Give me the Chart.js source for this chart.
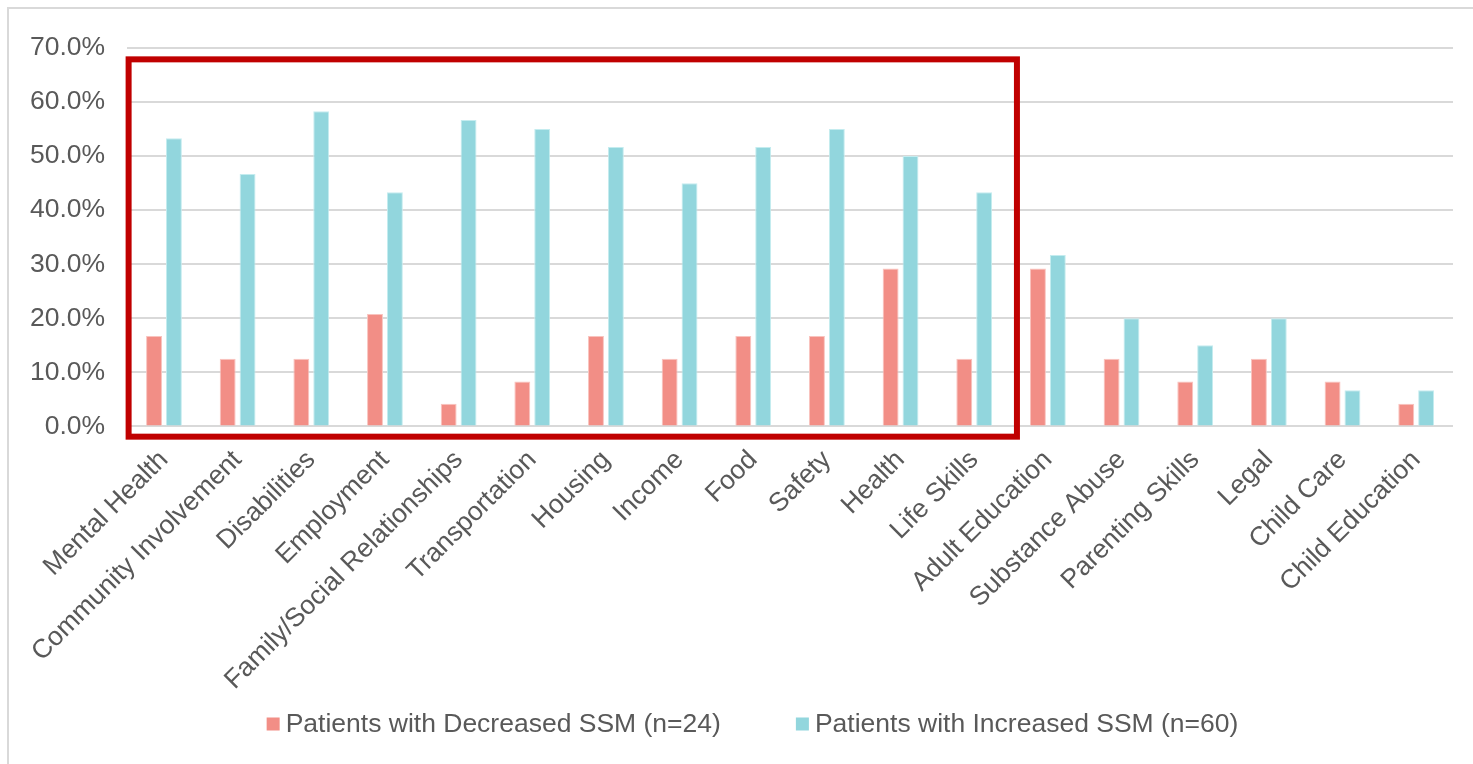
<!DOCTYPE html>
<html>
<head>
<meta charset="utf-8">
<script src="https://cdn.jsdelivr.net/npm/chart.js@4/dist/chart.umd.min.js"></script>
<style>
  html, body { margin: 0; padding: 0; background: #ffffff; }
  #wrap { position: relative; width: 1473px; height: 764px; }
</style>
</head>
<body>
<div id="wrap"><canvas id="chart" width="1473" height="764"></canvas></div>
<script>
// Social needs categories and share of patients in each group (percent)
const categories = [
  'Mental Health', 'Community Involvement', 'Disabilities', 'Employment',
  'Family/Social Relationships', 'Transportation', 'Housing', 'Income',
  'Food', 'Safety', 'Health', 'Life Skills', 'Adult Education',
  'Substance Abuse', 'Parenting Skills', 'Legal', 'Child Care', 'Child Education'
];
const decreasedSSM = [16.7, 12.5, 12.5, 20.8, 4.2, 8.3, 16.7, 12.5, 16.7, 16.7, 29.2, 12.5, 29.2, 12.5, 8.3, 12.5, 8.3, 4.2];
const increasedSSM = [53.3, 46.7, 58.3, 43.3, 56.7, 55.0, 51.7, 45.0, 51.7, 55.0, 50.0, 43.3, 31.7, 20.0, 15.0, 20.0, 6.7, 6.7];
const seriesLabels = ['Patients with Decreased SSM (n=24)', 'Patients with Increased SSM (n=60)'];
const yTicks = [0, 10, 20, 30, 40, 50, 60, 70];
// highlighted group: first through last index of the framed categories
const highlightFirst = 0;
const highlightLast = 11;

const FONT = '"Liberation Sans", Arial, sans-serif';
const FONT_SIZE = 26.5;
const TEXT = '#595959';

// light frame along the top and left edges of the figure
const frameLines = {
  id: 'frameLines',
  beforeDraw(chart) {
    const ctx = chart.ctx;
    ctx.save();
    ctx.strokeStyle = '#D9D9D9';
    ctx.lineWidth = 2;
    ctx.beginPath();
    ctx.moveTo(8, chart.height);
    ctx.lineTo(8, 8);
    ctx.lineTo(chart.width, 8);
    ctx.stroke();
    ctx.restore();
  }
};

// red rectangle around the highlighted categories, placed with the chart scales
const highlightBox = {
  id: 'highlightBox',
  afterDatasetsDraw(chart) {
    const x = chart.scales.x, y = chart.scales.y, ctx = chart.ctx;
    const left = x.getPixelForValue(highlightFirst - 0.48);
    const right = x.getPixelForValue(highlightLast + 0.58);
    const top = y.getPixelForValue(67.9);
    const bottom = y.getPixelForValue(-1.9);
    ctx.save();
    ctx.strokeStyle = '#C00000';
    ctx.lineWidth = 6;
    ctx.lineJoin = 'miter';
    ctx.strokeRect(left, top, right - left, bottom - top);
    ctx.restore();
  }
};

// single-row legend under the axis labels: square swatch, short gap, label
const bottomLegend = {
  id: 'bottomLegend',
  afterDraw(chart) {
    const ctx = chart.ctx;
    const box = 13, boxGap = 6, itemGap = 75;
    ctx.save();
    ctx.font = FONT_SIZE + 'px ' + FONT;
    ctx.textBaseline = 'middle';
    ctx.textAlign = 'left';
    const items = chart.data.datasets.map(ds => ({
      text: ds.label,
      color: ds.backgroundColor,
      w: box + boxGap + ctx.measureText(ds.label).width
    }));
    const total = items.reduce((s, it) => s + it.w, 0) + itemGap * (items.length - 1);
    let x = chart.width / 2 + 16 - total / 2;
    const yMid = chart.height - 39;
    items.forEach(it => {
      ctx.fillStyle = it.color;
      ctx.fillRect(x, yMid - box / 2 - 1, box, box);
      ctx.fillStyle = TEXT;
      ctx.fillText(it.text, x + box + boxGap, yMid);
      x += it.w + itemGap;
    });
    ctx.restore();
  }
};

new Chart(document.getElementById('chart'), {
  type: 'bar',
  data: {
    labels: categories,
    datasets: [
      {
        label: seriesLabels[0],
        data: decreasedSSM,
        backgroundColor: '#F28E86',
        borderColor: '#F9C3BE',
        borderWidth: 1
      },
      {
        label: seriesLabels[1],
        data: increasedSSM,
        backgroundColor: '#92D6DD',
        borderColor: '#C4ECEF',
        borderWidth: 1
      }
    ]
  },
  options: {
    responsive: false,
    animation: false,
    datasets: { bar: { categoryPercentage: 0.54, barPercentage: 0.8 } },
    layout: { padding: { left: 8, right: 20, top: 48, bottom: 58 } },
    scales: {
      x: {
        grid: { display: false },
        border: { display: false },
        ticks: {
          color: TEXT,
          font: { family: FONT, size: FONT_SIZE },
          maxRotation: 45,
          minRotation: 45,
          autoSkip: false,
          padding: 10
        }
      },
      y: {
        min: 0,
        max: 70,
        afterBuildTicks(scale) { scale.ticks = yTicks.map(v => ({ value: v })); },
        grid: { color: '#D9D9D9', lineWidth: 2, drawTicks: false },
        border: { display: false },
        ticks: {
          color: TEXT,
          font: { family: FONT, size: FONT_SIZE },
          padding: 22,
          callback: v => v.toFixed(1) + '%'
        }
      }
    },
    plugins: {
      legend: { display: false },
      tooltip: { enabled: false }
    }
  },
  plugins: [frameLines, highlightBox, bottomLegend]
});
</script>
</body>
</html>
